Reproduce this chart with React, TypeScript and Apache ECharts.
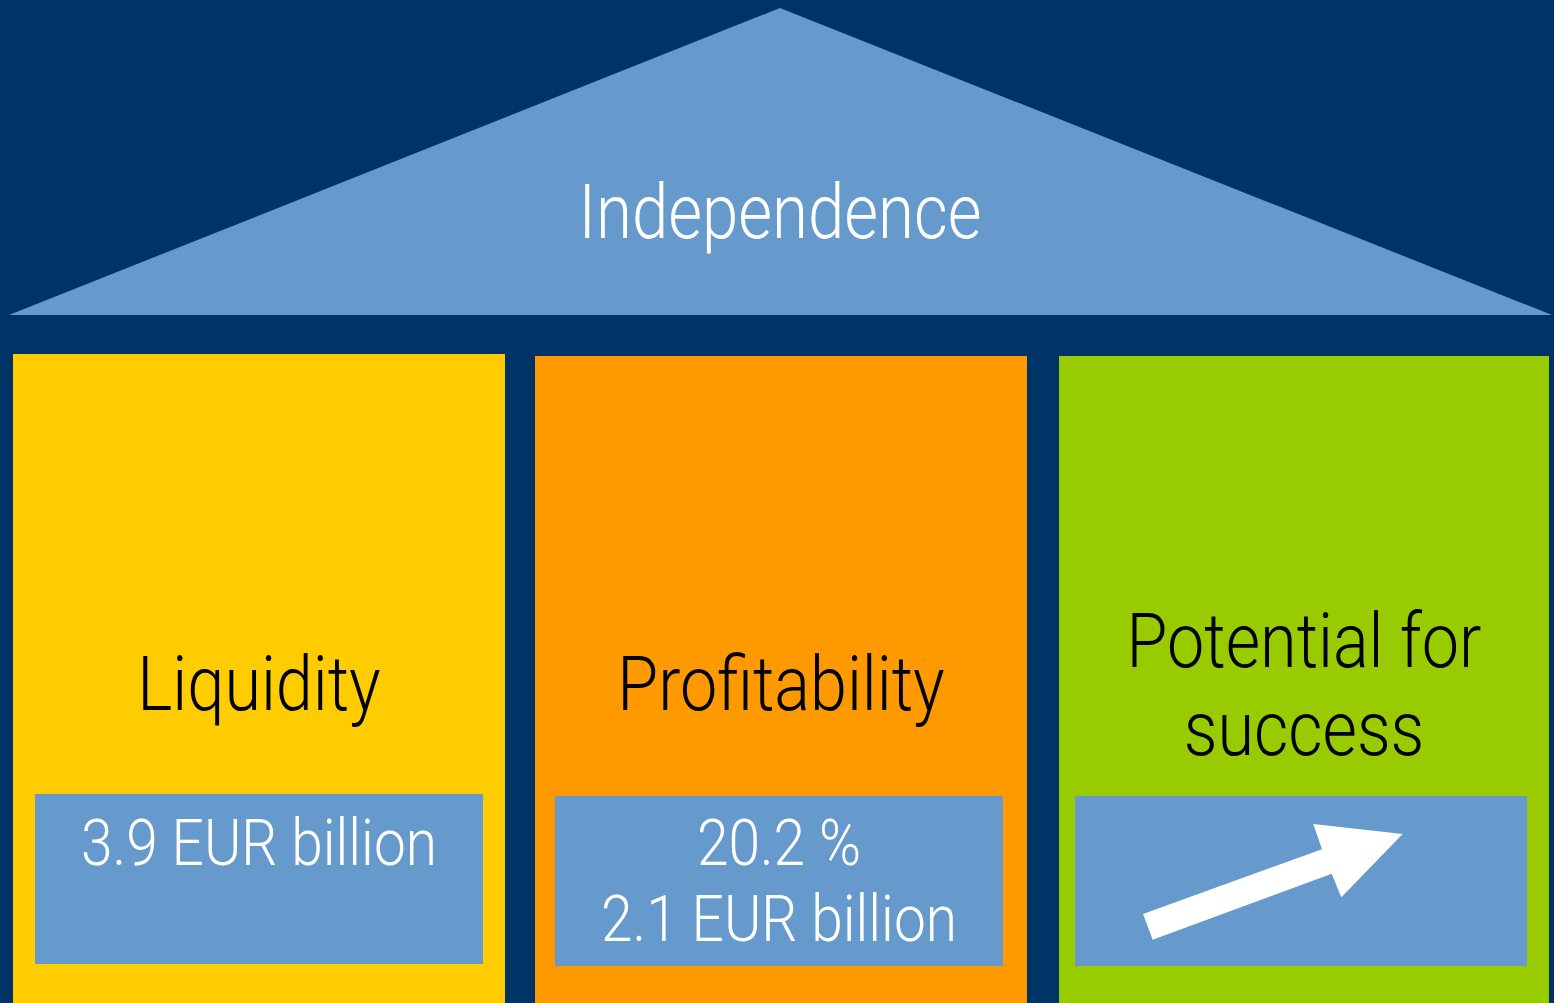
import React, { useEffect, useRef } from "react";
import * as echarts from "echarts";

const roofTitle = "Independence";
const pillarTitles = [["Liquidity"], ["Profitability"], ["Potential for", "success"]];
const pillarValues = [["3.9 EUR billion"], ["20.2 %", "2.1 EUR billion"], []];
const pillarColors = ["#FFCC00", "#FF9900", "#99CC00"];
const pillarRects = [
  { x: 13, y: 354, w: 492, h: 649 },
  { x: 535, y: 356, w: 492, h: 647 },
  { x: 1059, y: 356, w: 490, h: 647 },
];
const boxRects = [
  { x: 35, y: 794, w: 448, h: 170 },
  { x: 555, y: 796, w: 448, h: 170 },
  { x: 1075, y: 796, w: 452, h: 170 },
];

const NAVY = "#003366";
const LIGHT = "#6699CC";
const FONT = 'Roboto, "DejaVu Sans", sans-serif';
const SX = 0.875;

export default function App() {
  const ref = useRef<HTMLDivElement>(null);
  useEffect(() => {
    document.body.style.margin = "0";
    const chart = echarts.init(ref.current!, null, { renderer: "svg" });
    const elements: any[] = [];
    const txt = (t: string, x: number, y: number, size: number, fill: string, sx = SX) => ({
      type: "text",
      x,
      y,
      scaleX: sx,
      style: {
        text: t,
        fill,
        font: `300 ${size}px ${FONT}`,
        textAlign: "center",
        textVerticalAlign: "middle",
      },
    });
    elements.push({
      type: "polygon",
      shape: { points: [[780, 8], [1552, 315], [9, 315]] },
      style: { fill: LIGHT },
    });
    elements.push(txt(roofTitle, 780, 212, 76, "#ffffff", 0.86));
    pillarRects.forEach((r, i) => {
      elements.push({
        type: "rect",
        shape: { x: r.x, y: r.y, width: r.w, height: r.h },
        style: { fill: pillarColors[i] },
      });
      const b = boxRects[i];
      elements.push({
        type: "rect",
        shape: { x: b.x, y: b.y, width: b.w, height: b.h },
        style: { fill: LIGHT },
      });
      const cx = r.x + r.w / 2;
      const titles = pillarTitles[i];
      const titleYs = titles.length === 1 ? [684] : [641, 729];
      titles.forEach((t, j) => {
        elements.push(txt(t, cx, titleYs[j], 76, "#000000"));
      });
      const bcx = b.x + b.w / 2;
      pillarValues[i].forEach((t, j) => {
        elements.push(txt(t, bcx, 843 + j * 76, 65, "#ffffff"));
      });
    });
    elements.push({
      type: "polygon",
      shape: {
        points: [
          [1152.7, 939.7],
          [1143, 914],
          [1322, 849.3],
          [1313.3, 824],
          [1402.7, 834],
          [1341.3, 897.3],
          [1331.7, 873.7],
        ],
      },
      style: { fill: "#ffffff" },
    });
    chart.setOption({
      animation: false,
      backgroundColor: NAVY,
      graphic: { elements },
    });
    return () => chart.dispose();
  }, []);
  return (
    <div
      ref={ref}
      style={{ position: "absolute", left: 0, top: 0, width: 1554, height: 1003 }}
    />
  );
}
